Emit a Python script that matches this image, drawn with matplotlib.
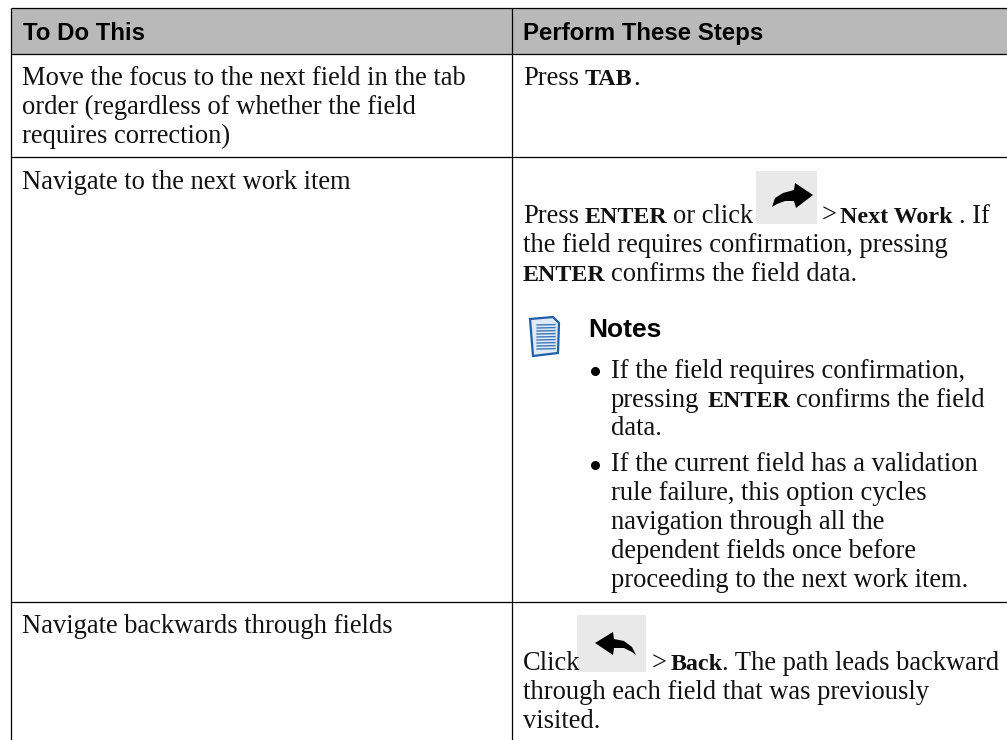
import matplotlib
matplotlib.use("Agg")
import matplotlib.pyplot as plt
from matplotlib.patches import Rectangle, Polygon

W, H = 1007, 740
SERIF = "Liberation Serif"
SANS = "Liberation Sans"
BODY = 19.1
BOLD = 17.3
INK = "#111111"

headers = ["To Do This", "Perform These Steps"]
left_lines = [
    (85, "Move the focus to the next field in the tab"),
    (114, "order (regardless of whether the field"),
    (143, "requires correction)"),
    (189, "Navigate to the next work item"),
    (633, "Navigate backwards through fields"),
]
# each entry: x, baseline, text, bold
right_lines = [
    (523, 85, "Press", 0),
    (585, 85, "TAB", 1),
    (633, 85, ".", 0),
    (523, 223, "Press", 0),
    (585, 223, "ENTER", 1),
    (673, 223, "or click", 0),
    (822, 223, ">", 0),
    (840, 223, "Next Work", 1),
    (959, 223, ". If", 0),
    (523, 252, "the field requires confirmation, pressing", 0),
    (523, 281, "ENTER", 1),
    (611, 281, "confirms the field data.", 0),
    (611, 378, "If the field requires confirmation,", 0),
    (611, 407, "pressing", 0),
    (708, 407, "ENTER", 1),
    (796, 407, "confirms the field", 0),
    (611, 435, "data.", 0),
    (611, 471, "If the current field has a validation", 0),
    (611, 500, "rule failure, this option cycles", 0),
    (611, 529, "navigation through all the", 0),
    (611, 558, "dependent fields once before", 0),
    (611, 587, "proceeding to the next work item.", 0),
    (523, 670, "Click", 0),
    (652, 670, ">", 0),
    (671, 670, "Back", 1),
    (722, 670, ". The path leads backward", 0),
    (523, 699, "through each field that was previously", 0),
    (523, 728, "visited.", 0),
]
bullet_rows = [371, 465]
h_rules = [7.5, 53.5, 157, 601.5]
v_rules = [11, 511.5]

fig = plt.figure(figsize=(W / 100, H / 100), dpi=100)
ax = fig.add_axes([0, 0, 1, 1])
ax.set_xlim(0, W)
ax.set_ylim(H, 0)
ax.axis("off")

# header band runs off the right edge, there is no right rule
ax.add_patch(Rectangle((v_rules[0], h_rules[0]), W - v_rules[0], h_rules[1] - h_rules[0], color="#b9b9b9", lw=0))
for x, label in zip([23, 523], headers):
    ax.text(x, 40, label, family=SANS, weight="bold", fontsize=17.25, color="#000000", va="baseline")

for y in h_rules:
    ax.plot([v_rules[0], W], [y, y], color="#000000", lw=0.9, solid_capstyle="butt")
for x in v_rules:
    ax.plot([x, x], [h_rules[0], H], color="#000000", lw=0.9, solid_capstyle="butt")

for y, s in left_lines:
    ax.text(22.5, y, s, family=SERIF, fontsize=BODY, color=INK, va="baseline")

for x, y, s, bold in right_lines:
    if bold:
        ax.text(x, y, s, family=SERIF, weight="bold", fontsize=BOLD, color=INK, va="baseline")
    else:
        ax.text(x, y, s, family=SERIF, fontsize=BODY, color=INK, va="baseline")

for y in bullet_rows:
    ax.plot([595], [y], marker="o", ms=6.5, mew=0, color="#000000")

ax.text(588, 337, "Notes", family=SANS, weight="bold", fontsize=19, color="#000000", va="baseline")

# notes icon
ax.add_patch(Polygon([(530, 319), (553, 317), (559, 323), (558, 353), (533, 356)], closed=True, fc="#dfe9f7", ec="#1f5fa8", lw=1.6))
for k in range(9):
    ax.plot([537, 555], [325 + k * 3, 324.6 + k * 3], color="#3f78b8", lw=1)

# arrow buttons
ax.add_patch(Rectangle((756, 171), 61, 53, color="#e9e9e9", lw=0))
ax.add_patch(Polygon([(772, 207), (775, 198), (783, 193), (794, 190), (795, 183), (813, 195), (796, 208), (794, 201), (785, 201), (777, 204)], closed=True, fc="#000000", ec="none"))
ax.add_patch(Rectangle((577, 615), 69, 57, color="#e9e9e9", lw=0))
ax.add_patch(Polygon([(636, 655), (632, 647), (624, 641), (614, 639), (613, 632), (595, 643), (613, 655), (614, 648), (624, 648), (632, 652)], closed=True, fc="#000000", ec="none"))

fig.savefig("out.png", dpi=100)
